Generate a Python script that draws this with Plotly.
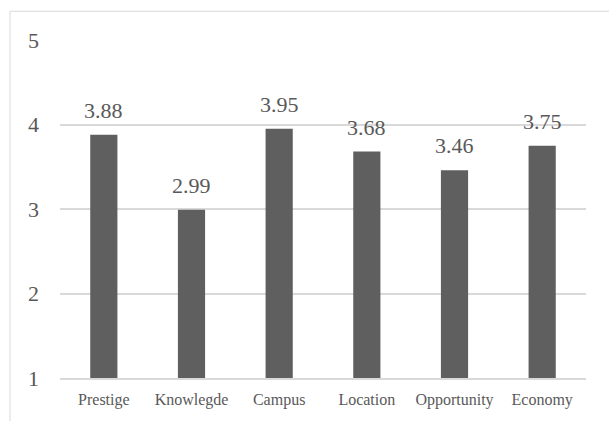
import plotly.graph_objects as go

categories = ["Prestige", "Knowlegde", "Campus", "Location", "Opportunity", "Economy"]
values = [3.88, 2.99, 3.95, 3.68, 3.46, 3.75]
labels = ["3.88", "2.99", "3.95", "3.68", "3.46", "3.75"]
y_ticks = [1, 2, 3, 4, 5]

SERIF = "Liberation Serif"
W, H = 609, 421
ml, mr, mt, mb = 60, 23, 40, 40
pw, ph = W - ml - mr, H - mt - mb

fig = go.Figure(go.Bar(x=categories, y=values, marker_color="#5f5f5f",
                       marker_line_width=0, hoverinfo="skip"))

for c, v, t in zip(categories, values, labels):
    fig.add_annotation(x=c, y=v, text=t, showarrow=False, yanchor="bottom",
                       yshift=10, font=dict(family=SERIF, size=22, color="#595959"))

fig.add_shape(type="rect", xref="paper", yref="paper",
              x0=(10 - ml) / pw, x1=(W + 60 - ml) / pw,
              y0=-(mb + 60) / ph, y1=1 + (mt - 11) / ph,
              line=dict(color="#d9d9d9", width=1), layer="below")

fig.update_layout(
    width=W, height=H, margin=dict(l=ml, r=mr, t=mt, b=mb),
    paper_bgcolor="white", plot_bgcolor="white", bargap=0.69,
    showlegend=False,
    font=dict(family=SERIF, color="#595959"),
)
fig.update_yaxes(range=[1, 5], tickvals=y_ticks, showgrid=True, gridcolor="#d9d9d9",
                 gridwidth=1.5, zeroline=False, showline=False,
                 tickfont=dict(family=SERIF, size=22, color="#595959"), ticklabelstandoff=20)
fig.update_xaxes(showline=True, linecolor="#d9d9d9", linewidth=1.5,
                 tickfont=dict(family=SERIF, size=16, color="#595959"), ticklabelstandoff=6)

fig.write_html("out.html")
